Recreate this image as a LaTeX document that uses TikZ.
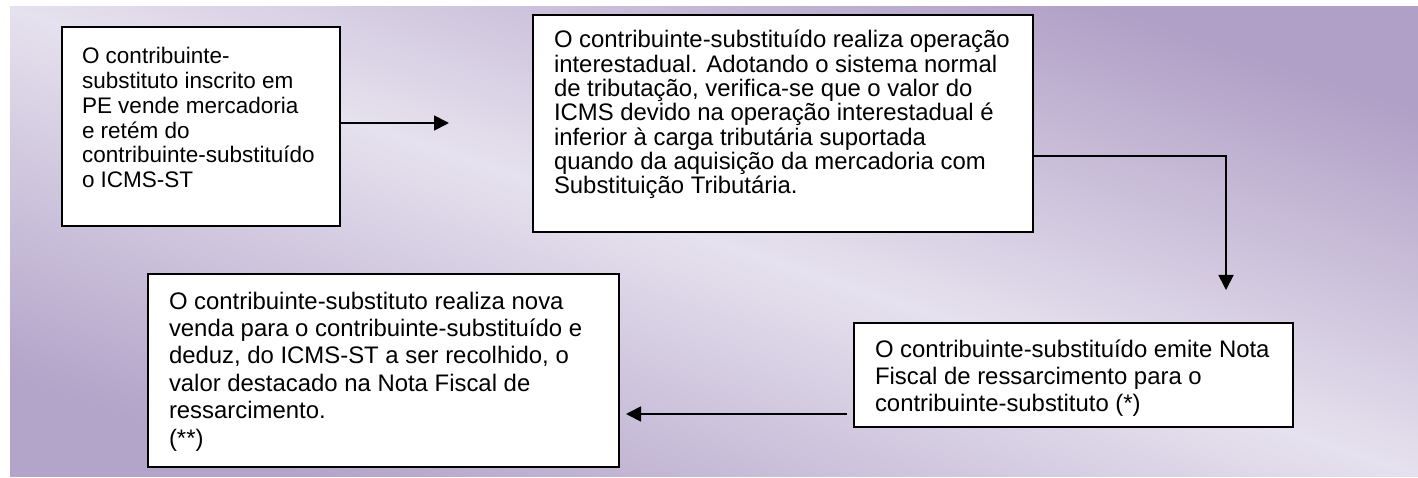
\documentclass[tikz,border=0pt]{standalone}
\usepackage{fontspec}
\setmainfont{Liberation Sans}
\usetikzlibrary{arrows.meta,calc}
\definecolor{bgdark}{HTML}{B09FC6}
\definecolor{bglight}{HTML}{E6E1EE}
\definecolor{bgdarktwo}{HTML}{B3A4C9}
% #1 height, #2 width, #3 font size, #4 baselineskip, #5 first baseline offset, #6 text
\newcommand{\bxtext}[6]{\parbox[c][#1][t]{#2}{\fontsize{#3}{#4}\selectfont\raggedright\rule{0pt}{#5}#6}}
\tikzset{
  boxnode/.style={draw=black, line width=2pt, fill=white, inner ysep=0pt, outer sep=0pt, anchor=north west},
  arr/.style={draw=black, line width=1.8pt, -{Triangle[length=15pt,width=15pt]}}
}
\begin{document}
\begin{tikzpicture}[x=1pt,y=-1pt]
\useasboundingbox (0,0) rectangle (1418,478);
\shade[top color=bgdark, bottom color=bgdarktwo, middle color=bglight, shading angle=-18.4] (10,7) rectangle (1418,476);

\node[boxnode, inner xsep=20pt] (b1) at (62,27)
  {\bxtext{199pt}{238pt}{22.5pt}{24.7pt}{37pt}{O contribuinte-\\substituto inscrito em\\PE vende mercadoria\\e retém do\\contribuinte-substituído\\o ICMS-ST}};

\node[boxnode, inner xsep=21pt] (b2) at (533,15)
  {\bxtext{217pt}{458pt}{23.9pt}{24.3pt}{33pt}{O contribuinte-substituído realiza operação\\interestadual. Adotando o sistema normal\\de tributação, verifica-se que o valor do\\ICMS devido na operação interestadual é\\inferior à carga tributária suportada\\quando da aquisição da mercadoria com\\Substituição Tributária.}};

\node[boxnode, inner xsep=21pt] (b3) at (148,274)
  {\bxtext{193pt}{429pt}{23.9pt}{27.4pt}{35pt}{O contribuinte-substituto realiza nova\\venda para o contribuinte-substituído e\\deduz, do ICMS-ST a ser recolhido, o\\valor destacado na Nota Fiscal de\\ressarcimento.\\(**)}};

\node[boxnode, inner xsep=21pt] (b4) at (854,323)
  {\bxtext{104pt}{397pt}{23.9pt}{27pt}{34pt}{O contribuinte-substituído emite Nota\\Fiscal de ressarcimento para o\\contribuinte-substituto (*)}};

\coordinate (a1e) at (449,123);
\draw[arr] (b1.east |- a1e) -- (a1e);

\coordinate (a2c) at (1226,156);
\coordinate (a2e) at (1226,290);
\draw[arr] (b2.east |- a2c) -| (a2e);

\coordinate (a3) at (0,414);
\draw[arr, shorten <=7pt, shorten >=7pt] (b4.west |- a3) -- (b3.east |- a3);
\end{tikzpicture}
\end{document}
